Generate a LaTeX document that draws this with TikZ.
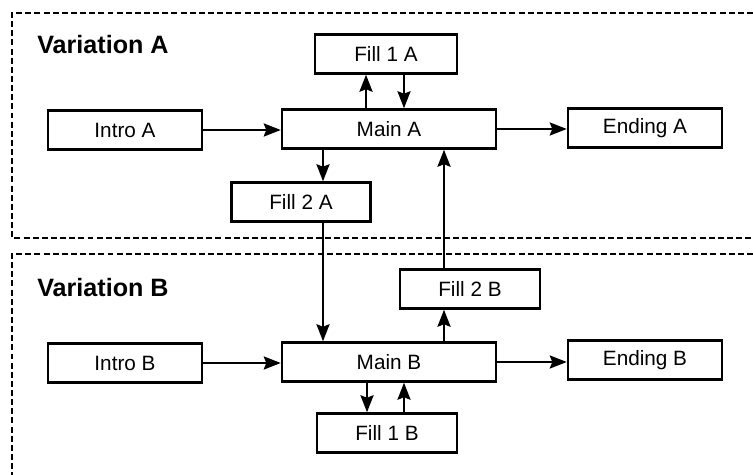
\documentclass[tikz,border=0pt]{standalone}
\usepackage{fontspec}
\setmainfont{Liberation Sans}
\usetikzlibrary{arrows.meta}

\tikzset{
blk/.style={draw, line width=1.4pt, minimum height=0.78cm, inner sep=0pt, font=\fontsize{11.8}{13}\selectfont},
region/.style={line width=1.2pt, dash pattern=on 3.4pt off 1.8pt},
flow/.style={-{Stealth[length=0.34cm,width=0.26cm,inset=0.05cm]}, line width=1.4pt},
vartitle/.style={anchor=base west, inner sep=0pt, font=\fontsize{14.3}{16}\selectfont\bfseries}
}

\begin{document}
\begin{tikzpicture}[x=0.02cm,y=-0.02cm]

\useasboundingbox (0,0) rectangle (753,475);

% Dashed regions
\draw[region] (753,13)--(12,13)--(12,238)--(753,238);
\draw[region] (753,254)--(12,254)--(12,475);

\node[vartitle] (varA) at (37,54){Variation A};
\node[vartitle] (varB) at (37,297){Variation B};

% Variation A blocks
\node[blk, minimum width=3.08cm] (introA) at (125,130){Intro A};
\node[blk, minimum width=4.28cm] (mainA) at (389,129){Main A};
\node[blk, minimum width=3.08cm] (endA) at (645,128){Ending A};
\node[blk, minimum width=2.84cm] (fillOneA) at (386,54){Fill 1 A};
\node[blk, minimum width=2.78cm] (fillTwoA) at (301,202){Fill 2 A};

% Variation B blocks
\node[blk, minimum width=3.08cm] (introB) at (125,363){Intro B};
\node[blk, minimum width=4.28cm] (mainB) at (389,362){Main B};
\node[blk, minimum width=3.08cm] (endB) at (645,360){Ending B};
\node[blk, minimum width=2.8cm] (fillTwoB) at (470,289){Fill 2 B};
\node[blk, minimum width=2.8cm] (fillOneB) at (387,433){Fill 1 B};

% Flow in A
\draw[flow] (introA.east)--(introA.east -| mainA.west);
\draw[flow] (mainA.east)--(mainA.east -| endA.west);
\draw[flow] ([xshift=-0.4cm]fillOneA.south |- mainA.north)--([xshift=-0.4cm]fillOneA.south);
\draw[flow] ([xshift=0.36cm]fillOneA.south)--([xshift=0.36cm]fillOneA.south |- mainA.north);
\draw[flow] ([xshift=0.44cm]fillTwoA.north |- mainA.south)--([xshift=0.44cm]fillTwoA.north);

% Crossing between A and B
\draw[flow] ([xshift=0.44cm]fillTwoA.south)--([xshift=0.44cm]fillTwoA.south |- mainB.north);
\draw[flow] ([xshift=-0.52cm]fillTwoB.north)--([xshift=-0.52cm]fillTwoB.north |- mainA.south);

% Flow in B
\draw[flow] (introB.east)--(introB.east -| mainB.west);
\draw[flow] (mainB.east)--(mainB.east -| endB.west);
\draw[flow] ([xshift=-0.52cm]fillTwoB.south |- mainB.north)--([xshift=-0.52cm]fillTwoB.south);
\draw[flow] ([xshift=-0.4cm]fillOneB.north |- mainB.south)--([xshift=-0.4cm]fillOneB.north);
\draw[flow] ([xshift=0.34cm]fillOneB.north)--([xshift=0.34cm]fillOneB.north |- mainB.south);

\end{tikzpicture}
\end{document}
